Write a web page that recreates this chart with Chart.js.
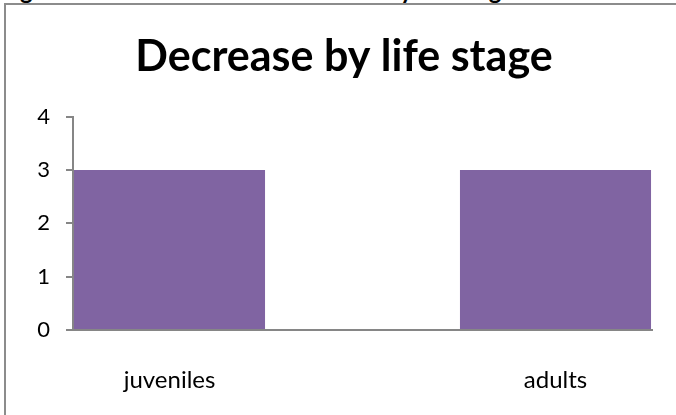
<!DOCTYPE html>
<html>
<head>
<meta charset="utf-8">
<script src="https://cdn.jsdelivr.net/npm/chart.js@4.4.0/dist/chart.umd.min.js"></script>
<style>
  html, body { margin: 0; padding: 0; background: #fff; overflow: hidden; }
  #caption {
    position: absolute; right: 162px; top: -25px; white-space: nowrap;
    font: bold 24px Lato, sans-serif; color: #000;
  }
  #frame {
    position: absolute; left: 4px; top: 3px; width: 700px; height: 430px;
    border-top: 2px solid #8c8c8c; border-left: 2px solid #8c8c8c;
  }
  #stageChart { position: absolute; left: 0; top: 0; }
</style>
</head>
<body>
<div id="caption">Figure 3: All studies with a decrease by life stage</div>
<div id="frame"></div>
<canvas id="stageChart" width="676" height="415"></canvas>
<script>
// middle category is an empty slot in the original chart
const stages = ['juveniles', '', 'adults'];
const decreaseCounts = [3, null, 3];
const yTicks = [0, 1, 2, 3, 4];

const axisGray = '#868686';

const data = {
  labels: stages,
  datasets: [{
    label: 'Decrease',
    data: decreaseCounts,
    backgroundColor: '#8064A2',
    borderWidth: 0,
    categoryPercentage: 1,
    barPercentage: 0.99
  }]
};

const stageConfig = {
  type: 'bar',
  data: data,
  options: {
    responsive: false,
    animation: false,
    layout: { padding: { left: 36, right: 24, top: 0, bottom: 0 } },
    plugins: {
      legend: { display: false },
      tooltip: { enabled: false },
      title: {
        display: true,
        text: 'Decrease by life stage',
        color: '#000',
        font: { family: 'Lato', size: 43, weight: 'bold' },
        padding: { top: 31, bottom: 34 }
      }
    },
    scales: {
      x: {
        grid: { display: false },
        border: { display: true, color: axisGray, width: 2 },
        ticks: { color: '#000', font: { family: 'Lato', size: 24 }, padding: 28 },
        afterFit: axis => { axis.height = 85; }
      },
      y: {
        min: 0,
        max: 4,
        afterBuildTicks: axis => { axis.ticks = yTicks.map(v => ({ value: v })); },
        grid: { drawOnChartArea: false, tickLength: 7, color: axisGray, lineWidth: 2 },
        border: { display: true, color: axisGray, width: 2 },
        ticks: { color: '#000', font: { family: 'Lato', size: 22 }, padding: 16 },
        afterFit: axis => { axis.width = 37; }
      }
    }
  }
};

const stageChart = new Chart(
  document.getElementById('stageChart'),
  stageConfig
);
</script>
</body>
</html>
